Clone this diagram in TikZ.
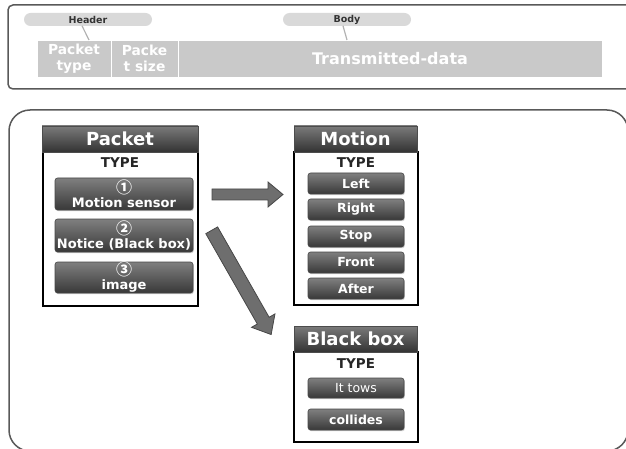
\documentclass[tikz,border=0pt]{standalone}
\usepackage{fontspec}
\setmainfont{DejaVu Sans}
\newfontfamily\cjk{Noto Sans CJK KR}
\usetikzlibrary{shadows}
\newcommand{\fsz}[1]{\fontsize{#1}{#1}\selectfont}
\newcommand{\circnum}[1]{{\cjk\bfseries\fontsize{16}{12}\selectfont #1}}
\begin{document}
\begin{tikzpicture}[x=1pt,y=-1pt,
  frame/.style={draw=black!65, line width=1.5pt},
  pill/.style={fill=black!15, rounded corners=6.5pt, inner sep=0, text=black!80, font=\bfseries\fsz{9.5}},
  pointer/.style={draw=black!30, line width=1.2pt},
  bar/.style={fill=black!21, draw=white, line width=0.8pt, inner sep=0, text=white, font=\bfseries\fontsize{13.8}{16}\selectfont, align=center},
  hdr/.style={top color=black!52, bottom color=black!80, draw=black!70, line width=0.6pt, text=white, font=\bfseries\fsz{18}, inner sep=0},
  tbox/.style={draw=black, line width=1.3pt, fill=white, inner sep=0},
  typelbl/.style={font=\bfseries\fsz{13.5}, text=black!85, inner sep=0},
  btn/.style={rounded corners=2.5pt, top color=black!50, bottom color=black!78, draw=black!72, line width=0.6pt, text=white, font=\bfseries\fontsize{13}{14}\selectfont, align=center, inner sep=0,
    drop shadow={opacity=0.35, shadow xshift=0.8pt, shadow yshift=-1.2pt}},
  sbtn/.style={btn, minimum width=96, font=\bfseries\fsz{12.5}},
  blockarrow/.style={fill=black!57, draw=black!72, line width=0.8pt, line join=miter},
]
\useasboundingbox (0,0) rectangle (626,449);
\begin{scope}
\clip (0,0) rectangle (626,449);
% ---------- top frame ----------
\draw[frame, rounded corners=5pt] (8,5) rectangle (660,89);
\node[pill, minimum width=128, minimum height=13] (hpill) at (88,19.5) {Header};
\node[pill, minimum width=128, minimum height=13] (bpill) at (347,19.5) {Body};
\node[bar, minimum width=74, minimum height=37] (ptype) at (74,58.5) {Packet\\type};
\node[bar, minimum width=67, minimum height=37] (psize) at (144.5,58.5) {Packe\\t size};
\node[bar, minimum width=424, minimum height=37, font=\bfseries\fsz{16}] (tdata) at (390,58.5) {Transmitted-data};
\coordinate (hp) at (82,25.8);
\coordinate (bp) at (343,25.8);
\draw[pointer] (hp) -- (89,40);
\draw[pointer] (bp) -- (347,40);
% ---------- bottom frame ----------
\draw[frame, rounded corners=21pt] (9,110) rectangle (628,451);

% Packet
\node[tbox, minimum width=155, minimum height=154] (pbox) at (120.5,229) {};
\node[hdr, minimum width=156, minimum height=26] (phdr) at (120,139) {Packet};
\node[typelbl] (ptypel) at (120,163) {TYPE};
\node[btn, minimum width=138, minimum height=32] (b1) at (124,194) {\circnum{①}\\Motion sensor};
\node[btn, minimum width=138, minimum height=33] (b2) at (124,235.5) {\circnum{②}\\Notice (Black box)};
\node[btn, minimum width=138, minimum height=31] (b3) at (124,277.5) {\circnum{③}\\image};

% Motion
\node[tbox, minimum width=124, minimum height=153] (mbox) at (356,228.5) {};
\node[hdr, minimum width=123, minimum height=26] (mhdr) at (355.5,139) {Motion};
\node[typelbl] (mtypel) at (356,163) {TYPE};
\node[sbtn, minimum height=21] (mleft) at (356,183.5) {Left};
\node[sbtn, minimum height=21] (mright) at (356,209.5) {Right};
\node[sbtn, minimum height=21] (mstop) at (356,236.5) {Stop};
\node[sbtn, minimum height=21] (mfront) at (356,262.5) {Front};
\node[sbtn, minimum height=21] (mafter) at (356,288.5) {After};

% Black box
\node[tbox, minimum width=124, minimum height=90] (kbox) at (356,397) {};
\node[hdr, minimum width=123, minimum height=26] (khdr) at (355.5,339) {Black box};
\node[typelbl] (ktypel) at (356,364) {TYPE};
\node[sbtn, minimum height=20, font=\fsz{12.5}] (ktow) at (356,388) {It tows};
\node[sbtn, minimum height=21] (kcol) at (356,419.5) {collides};

% block arrows
\coordinate (a1) at (212,194.5);
\coordinate (a2) at (211.7,230.3);
\begin{scope}[shift={(a1)}]
\draw[blockarrow] (0,-5.5) -- (56,-5.5) -- (56,-12.5) -- (71,0) -- (56,12.5) -- (56,5.5) -- (0,5.5) -- cycle;
\end{scope}
\begin{scope}[shift={(a2)}, rotate=-60.3]
\draw[blockarrow] (0,-6.8) -- (104,-6.8) -- (104,-13.5) -- (120,0) -- (104,13.5) -- (104,6.8) -- (0,6.8) -- cycle;
\end{scope}
\end{scope}
\end{tikzpicture}
\end{document}
